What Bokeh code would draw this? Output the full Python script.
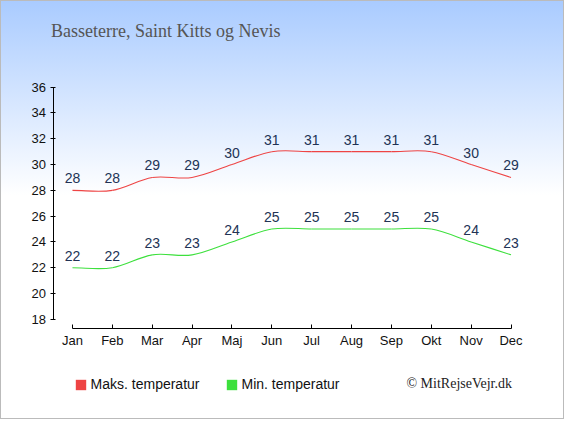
from bokeh.plotting import figure
from bokeh.models import (Range1d, FixedTicker, Label, Legend, LegendItem,
                          ColumnDataSource)
from bokeh.embed import file_html
from bokeh.resources import INLINE

months = ["Jan", "Feb", "Mar", "Apr", "Maj", "Jun", "Jul", "Aug", "Sep", "Okt", "Nov", "Dec"]
max_temp = [28, 28, 29, 29, 30, 31, 31, 31, 31, 31, 30, 29]
min_temp = [22, 22, 23, 23, 24, 25, 25, 25, 25, 25, 24, 23]
y_ticks = [18, 20, 22, 24, 26, 28, 30, 32, 34, 36]
title_text = "Basseterre, Saint Kitts og Nevis"
legend_max = "Maks. temperatur"
legend_min = "Min. temperatur"
credit = "\u00a9 MitRejseVejr.dk"

RED = "#ee4444"
GREEN = "#3de03d"
LABEL_COLOR = "#223355"

xs = list(range(len(months)))

W, H = 564, 419
SX, SY = W / 580.0, H / 435.0


def fx(v):
    return v * SX


def fy(v):
    return v * SY


X0 = fx(74)                  # Jan position
PXX = fx(41)                 # pixels per month
Y18 = fy(331)                # y=18 position from top
PXY = (fy(331) - fy(90)) / 18.0

p = figure(width=W, height=H, output_backend="svg", toolbar_location=None,
           x_range=Range1d(-X0 / PXX, (W - X0) / PXX),
           y_range=Range1d(18 - (H - Y18) / PXY, 18 + Y18 / PXY),
           min_border=0)
p.styles = {"background": "linear-gradient(to bottom, #a9cbff 0px, #ffffff 195px)",
            "box-shadow": "inset 0 0 0 1px #bbbbbb"}
p.border_fill_color = None
p.background_fill_color = None
p.outline_line_color = None
p.xgrid.visible = False
p.ygrid.visible = False

# axes (detached, drawn at fixed positions)
p.xaxis.fixed_location = 18 - (fy(341) - fy(331)) / PXY
p.yaxis.fixed_location = (fx(54) - X0) / PXX
p.xaxis.ticker = FixedTicker(ticks=xs)
p.xaxis.major_label_overrides = {i: m for i, m in enumerate(months)}
p.xaxis.bounds = (0, len(months) - 1)
p.xaxis.minor_tick_line_color = None
p.xaxis.major_tick_in = 4
p.xaxis.major_tick_out = 0
p.xaxis.major_label_standoff = 4
p.yaxis.ticker = FixedTicker(ticks=y_ticks)
p.yaxis.bounds = (y_ticks[0], y_ticks[-1])
p.yaxis.minor_tick_line_color = None
p.yaxis.major_tick_in = 2
p.yaxis.major_tick_out = 3
p.yaxis.major_label_standoff = 4
for ax in (p.xaxis, p.yaxis):
    ax.axis_line_color = "black"
    ax.major_tick_line_color = "black"
    ax.major_label_text_font = "Liberation Sans"
    ax.major_label_text_font_size = "13px"
    ax.major_label_text_color = "#111111"


def smooth(x, y):
    n = len(x)
    m = []
    for i in range(n):
        if i == 0:
            m.append((y[1] - y[0]) / (x[1] - x[0]))
        elif i == n - 1:
            m.append((y[-1] - y[-2]) / (x[-1] - x[-2]))
        else:
            m.append((y[i + 1] - y[i - 1]) / (x[i + 1] - x[i - 1]))
    d = dict(x0=[], y0=[], x1=[], y1=[], cx0=[], cy0=[], cx1=[], cy1=[])
    for i in range(n - 1):
        h = x[i + 1] - x[i]
        d["x0"].append(x[i]); d["y0"].append(y[i])
        d["x1"].append(x[i + 1]); d["y1"].append(y[i + 1])
        d["cx0"].append(x[i] + h / 3); d["cy0"].append(y[i] + m[i] * h / 3)
        d["cx1"].append(x[i + 1] - h / 3); d["cy1"].append(y[i + 1] - m[i + 1] * h / 3)
    return ColumnDataSource(d)


for series, color in ((max_temp, RED), (min_temp, GREEN)):
    p.bezier(x0="x0", y0="y0", x1="x1", y1="y1", cx0="cx0", cy0="cy0",
             cx1="cx1", cy1="cy1", source=smooth(xs, series),
             line_color=color, line_width=1.1)
    p.text(x=xs, y=series, text=[str(v) for v in series],
           text_align="center", text_baseline="bottom", y_offset=-7,
           text_font_size="14px", text_color=LABEL_COLOR,
           text_font={"value": "Liberation Sans"})

# legend swatches: zero-area quads (draw nothing in the plot, only the legend glyph)
r_max = p.quad(left=[xs[0]], right=[xs[0]], top=[max_temp[0]], bottom=[max_temp[0]],
               fill_color=RED, line_color=None)
r_min = p.quad(left=[xs[0]], right=[xs[0]], top=[min_temp[0]], bottom=[min_temp[0]],
               fill_color=GREEN, line_color=None)
legend = Legend(items=[LegendItem(label=legend_max, renderers=[r_max]),
                       LegendItem(label=legend_min, renderers=[r_min])],
                orientation="horizontal", location=(fx(77) - 1.3, H - fy(399) - 8),
                glyph_width=13, glyph_height=13, label_standoff=4, spacing=25,
                padding=0, margin=0, border_line_color=None,
                background_fill_alpha=0,
                label_text_font="Liberation Sans", label_text_font_size="14px",
                label_text_color="#111111")
p.add_layout(legend, "center")

p.add_layout(Label(x=fx(52), y=H - fy(32), x_units="screen", y_units="screen",
                   text=title_text, text_font="Liberation Serif", text_font_size="18px",
                   text_color="#555555", text_baseline="middle"))
p.add_layout(Label(x=fx(526), y=H - fy(398), x_units="screen", y_units="screen",
                   text=credit, text_font="Liberation Serif", text_font_size="14px",
                   text_color="#222222", text_baseline="middle", text_align="right"))

open("out.html", "w").write(file_html(p, INLINE))
